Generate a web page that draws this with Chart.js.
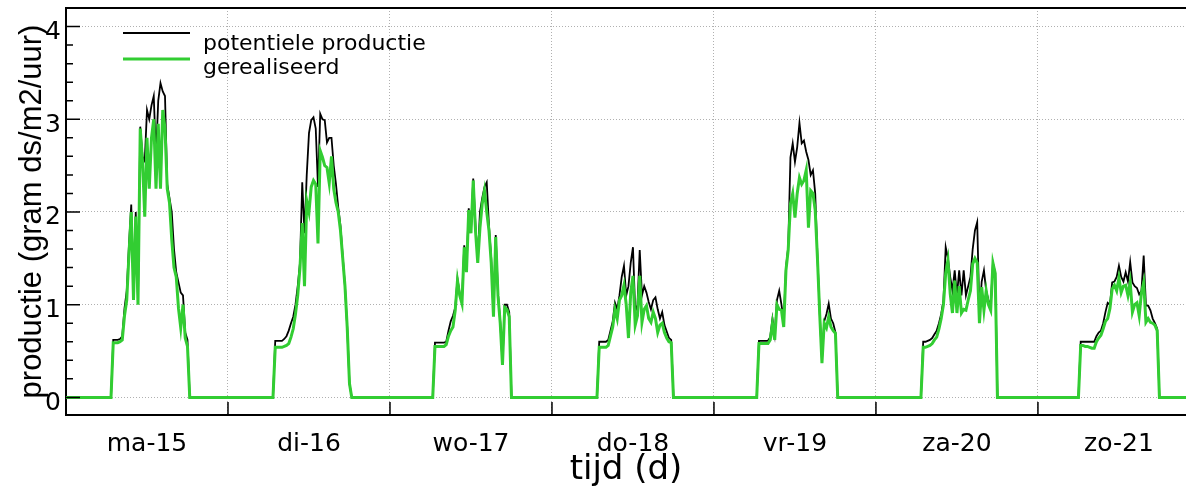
<!DOCTYPE html>
<html>
<head>
<meta charset="utf-8">
<script src="https://cdn.jsdelivr.net/npm/chart.js@4.4.1/dist/chart.umd.min.js"></script>
<style>
  html, body { margin: 0; padding: 0; background: #fff; }
  #wrap { width: 1186px; height: 493px; }
</style>
</head>
<body>
<div id="wrap"><canvas id="myChart"></canvas></div>
<script>
// day labels on the x axis (one per day, label sits at midday)
const dayLabels = ["ma-15", "di-16", "wo-17", "do-18", "vr-19", "za-20", "zo-21"];

// values are per 20 minutes; firstSlot = slot (from midnight) of the first value of each day
const slotsPerDay = 72;
const firstSlot = [20, 20, 19, 20, 19, 20, 18];

// potentiele productie (gram ds/m2/uur)
const potMa15 = [0, 0.62, 0.62, 0.62, 0.63, 0.66, 0.96, 1.15, 1.65, 2.08, 1.1, 2.0, 1.05, 2.92, 2.6, 2.55, 3.1, 3.0, 3.15, 3.25, 2.6, 3.2, 3.39, 3.3, 3.25, 2.3, 2.15, 2.0, 1.6, 1.35, 1.24, 1.13, 1.1, 0.7, 0.62, 0];
const potDi16 = [0, 0.61, 0.61, 0.61, 0.61, 0.63, 0.66, 0.72, 0.8, 0.87, 1.0, 1.2, 1.45, 2.32, 1.77, 2.4, 2.85, 2.99, 3.02, 2.9, 2.27, 3.06, 3.0, 2.99, 2.75, 2.8, 2.8, 2.5, 2.3, 2.05, 1.85, 1.52, 1.2, 0.75, 0.15, 0];
const potWo17 = [0, 0.59, 0.59, 0.59, 0.59, 0.59, 0.6, 0.72, 0.82, 0.88, 0.97, 1.28, 1.12, 1.05, 1.64, 1.38, 2.04, 1.8, 2.36, 1.85, 1.5, 2.0, 2.15, 2.27, 2.32, 1.85, 1.5, 0.9, 1.75, 1.12, 0.82, 0.37, 1.0, 1.0, 0.92, 0];
const potDo18 = [0, 0.6, 0.6, 0.6, 0.6, 0.62, 0.72, 0.82, 1.02, 0.95, 1.1, 1.3, 1.42, 1.1, 1.2, 1.45, 1.62, 0.92, 1.0, 1.59, 1.1, 1.2, 1.13, 1.03, 0.95, 1.05, 1.08, 0.95, 0.85, 0.92, 0.78, 0.71, 0.64, 0.62, 0];
const potVr19 = [0, 0.61, 0.61, 0.61, 0.61, 0.61, 0.65, 0.85, 0.68, 1.05, 1.15, 1.0, 0.82, 1.4, 1.62, 2.59, 2.74, 2.54, 2.7, 2.96, 2.74, 2.77, 2.65, 2.56, 2.4, 2.45, 2.2, 1.52, 0.92, 0.4, 0.82, 0.9, 1.01, 0.85, 0.8, 0.7, 0];
const potZa20 = [0, 0.6, 0.6, 0.61, 0.62, 0.64, 0.68, 0.72, 0.8, 0.9, 1.05, 1.62, 1.5, 1.3, 1.15, 1.37, 1.1, 1.37, 1.1, 1.37, 1.1, 1.2, 1.3, 1.6, 1.8, 1.89, 0.9, 1.25, 1.37, 1.15, 1.05, 0.98, 1.45, 1.34, 0];
const potZo21 = [0, 0.6, 0.6, 0.6, 0.6, 0.6, 0.6, 0.6, 0.66, 0.7, 0.72, 0.8, 0.92, 1.02, 1.0, 1.24, 1.25, 1.3, 1.42, 1.3, 1.25, 1.35, 1.25, 1.46, 1.24, 1.2, 1.18, 1.11, 1.15, 1.53, 0.99, 0.99, 0.94, 0.85, 0.8, 0.74, 0];

// gerealiseerd
const realMa15 = [0, 0.59, 0.59, 0.59, 0.6, 0.62, 0.88, 1.05, 1.55, 2.0, 1.05, 1.95, 1.0, 2.9, 2.55, 1.95, 2.8, 2.25, 2.8, 3.0, 2.25, 2.95, 2.25, 3.1, 2.9, 2.25, 2.1, 1.7, 1.4, 1.3, 0.96, 0.75, 1.0, 0.64, 0.55, 0];
const realDi16 = [0, 0.54, 0.54, 0.54, 0.54, 0.55, 0.56, 0.58, 0.65, 0.74, 0.9, 1.1, 1.4, 1.88, 1.2, 2.12, 2.0, 2.27, 2.34, 2.3, 1.66, 2.66, 2.59, 2.5, 2.48, 2.31, 2.6, 2.25, 2.1, 2.0, 1.8, 1.5, 1.2, 0.75, 0.15, 0];
const realWo17 = [0, 0.55, 0.55, 0.55, 0.55, 0.55, 0.57, 0.66, 0.72, 0.76, 0.94, 1.26, 1.1, 1.01, 1.62, 1.35, 2.02, 1.77, 2.34, 1.8, 1.45, 1.83, 2.09, 2.23, 2.0, 1.8, 1.45, 0.87, 1.73, 1.1, 0.8, 0.35, 0.97, 0.95, 0.87, 0];
const realDo18 = [0, 0.54, 0.54, 0.54, 0.54, 0.56, 0.66, 0.76, 0.95, 0.85, 1.05, 1.1, 1.21, 1.0, 0.64, 1.13, 1.31, 0.78, 0.88, 1.31, 0.81, 0.95, 0.99, 0.85, 0.81, 0.92, 0.85, 0.7, 0.78, 0.8, 0.7, 0.64, 0.6, 0.59, 0];
const realVr19 = [0, 0.58, 0.58, 0.58, 0.58, 0.58, 0.62, 0.8, 0.62, 1.0, 0.95, 0.94, 0.76, 1.37, 1.59, 2.09, 2.2, 1.94, 2.2, 2.37, 2.3, 2.34, 2.45, 1.83, 2.23, 2.2, 2.02, 1.5, 0.9, 0.37, 0.8, 0.75, 0.87, 0.76, 0.72, 0.69, 0];
const realZa20 = [0, 0.54, 0.54, 0.55, 0.56, 0.58, 0.62, 0.65, 0.74, 0.85, 1.0, 1.34, 1.48, 1.12, 0.91, 1.26, 0.91, 1.2, 0.91, 0.95, 0.94, 1.05, 1.15, 1.44, 1.5, 1.45, 0.8, 1.19, 0.94, 1.15, 1.0, 0.94, 1.45, 1.34, 0];
const realZo21 = [0, 0.56, 0.56, 0.55, 0.55, 0.54, 0.53, 0.53, 0.6, 0.64, 0.67, 0.74, 0.82, 0.85, 0.96, 1.17, 1.21, 1.15, 1.29, 1.13, 1.2, 1.21, 1.1, 1.24, 0.92, 1.0, 1.02, 0.88, 1.13, 1.24, 0.81, 0.85, 0.81, 0.8, 0.78, 0.72, 0];

const potential = [potMa15, potDi16, potWo17, potDo18, potVr19, potZa20, potZo21];
const realised = [realMa15, realDi16, realWo17, realDo18, realVr19, realZa20, realZo21];

// y axis ticks: labelled whole numbers plus small ticks every 0.2
const yLabels = [0, 1, 2, 3, 4];
const yMinorStep = 0.2;
const xMax = 6.914;

const isWhole = v => Math.abs(v - Math.round(v)) < 1e-6;

const yAllTicks = [];
for (let v = 0; v <= yLabels[yLabels.length - 1] + 1e-9; v += yMinorStep) {
  yAllTicks.push(Math.round(v * 10) / 10);
}

// turn the per-day lists into time points (x in days); night is 0
const buildSeries = (days) => {
  const pts = [{ x: 0, y: 0 }];
  days.forEach((vals, d) => {
    vals.forEach((v, i) => {
      pts.push({ x: d + (firstSlot[d] + i) / slotsPerDay, y: v });
    });
  });
  pts.push({ x: xMax, y: 0 });
  return pts;
};

// tick marks pointing into the plot
const inwardTicks = {
  id: "inwardTicks",
  afterDraw(chart) {
    const { ctx, chartArea: area, scales } = chart;
    ctx.save();
    ctx.strokeStyle = "#000";
    ctx.lineWidth = 1.5;
    ctx.beginPath();
    scales.y.ticks.forEach(t => {
      const y = scales.y.getPixelForValue(t.value);
      const len = isWhole(t.value) ? 14 : 7;
      ctx.moveTo(area.left, y);
      ctx.lineTo(area.left + len, y);
    });
    scales.x.ticks.forEach(t => {
      if (t.value <= 0) return;
      const x = scales.x.getPixelForValue(t.value);
      ctx.moveTo(x, area.bottom);
      ctx.lineTo(x, area.bottom - 13);
    });
    ctx.stroke();
    ctx.restore();
  }
};

// legend in the top left corner of the plot
const insideLegend = {
  id: "insideLegend",
  afterDraw(chart) {
    const { ctx, chartArea: area } = chart;
    ctx.save();
    ctx.font = '22px "DejaVu Sans"';
    ctx.fillStyle = "#000";
    ctx.textBaseline = "alphabetic";
    chart.data.datasets.forEach((ds, i) => {
      const lineY = area.top + 25 + i * 26;
      ctx.strokeStyle = ds.borderColor;
      ctx.lineWidth = ds.borderWidth;
      ctx.beginPath();
      ctx.moveTo(area.left + 57, lineY);
      ctx.lineTo(area.left + 124, lineY);
      ctx.stroke();
      ctx.fillText(ds.label, area.left + 137, area.top + 42 + i * 24);
    });
    ctx.restore();
  }
};

Chart.defaults.font.family = '"DejaVu Sans", sans-serif';
Chart.defaults.color = "#000";

const ctx = document.getElementById("myChart").getContext("2d");
const chart = new Chart(ctx, {
  type: "line",
  data: {
    datasets: [
      {
        label: "potentiele productie",
        data: buildSeries(potential),
        borderColor: "#000000",
        borderWidth: 1.8,
        pointRadius: 0,
        tension: 0,
        order: 2,
        xAxisID: "x",
        yAxisID: "y"
      },
      {
        label: "gerealiseerd",
        data: buildSeries(realised),
        borderColor: "#32cd32",
        borderWidth: 3,
        pointRadius: 0,
        tension: 0,
        order: 1,
        xAxisID: "x",
        yAxisID: "y"
      }
    ]
  },
  options: {
    responsive: true,
    maintainAspectRatio: false,
    devicePixelRatio: 1,
    animation: false,
    events: [],
    layout: { padding: { top: 8, right: 0, left: 0, bottom: 0 } },
    plugins: {
      legend: { display: false },
      tooltip: { enabled: false }
    },
    scales: {
      x: {
        type: "linear",
        position: "bottom",
        weight: 0,
        min: 0,
        max: xMax,
        afterBuildTicks: s => { s.ticks = dayLabels.map((_, i) => ({ value: i })); },
        ticks: { display: false },
        grid: {
          color: c => (c.tick && c.tick.value > 0 ? "#b0b0b0" : "transparent"),
          lineWidth: 1,
          drawTicks: false
        },
        border: { display: true, color: "#000", width: 2, dash: [1, 2] },
        afterFit: s => { s.height = 0; s.paddingLeft = 0; s.paddingRight = 0; }
      },
      xl: {
        type: "linear",
        position: "bottom",
        weight: 1,
        min: 0,
        max: xMax,
        afterBuildTicks: s => { s.ticks = dayLabels.map((_, i) => ({ value: i + 0.5 })); },
        ticks: {
          autoSkip: false,
          maxRotation: 0,
          padding: 6,
          font: { size: 25 },
          callback: (v, i) => dayLabels[i]
        },
        grid: { display: false },
        border: { display: false },
        title: {
          display: true,
          text: "tijd (d)",
          font: { size: 34, lineHeight: 1 },
          padding: { top: 0, bottom: 6 }
        },
        afterFit: s => { s.height = 78; s.paddingLeft = 0; s.paddingRight = 0; }
      },
      xt: {
        type: "linear",
        position: "top",
        min: 0,
        max: xMax,
        ticks: { display: false },
        grid: { display: false, drawTicks: false },
        border: { display: true, color: "#000", width: 2 },
        afterFit: s => { s.height = 0; s.paddingLeft = 0; s.paddingRight = 0; }
      },
      y: {
        type: "linear",
        position: "left",
        min: -0.19,
        max: 4.2,
        afterBuildTicks: s => { s.ticks = yAllTicks.map(v => ({ value: v })); },
        ticks: {
          autoSkip: false,
          padding: 5,
          labelOffset: 6,
          font: { size: 25 },
          callback: v => (isWhole(v) ? String(Math.round(v)) : "")
        },
        grid: {
          color: c => (c.tick && isWhole(c.tick.value) ? "#b0b0b0" : "transparent"),
          lineWidth: 1,
          drawTicks: false
        },
        border: { display: true, color: "#000", width: 2, dash: [1, 2] },
        title: {
          display: true,
          text: "productie (gram ds/m2/uur)",
          font: { family: '"Liberation Sans", Arial, sans-serif', size: 31 },
          padding: { top: 14, bottom: 0 }
        },
        afterFit: s => { s.width = 66; s.paddingTop = 0; s.paddingBottom = 0; }
      }
    }
  },
  plugins: [inwardTicks, insideLegend]
});
</script>
</body>
</html>
